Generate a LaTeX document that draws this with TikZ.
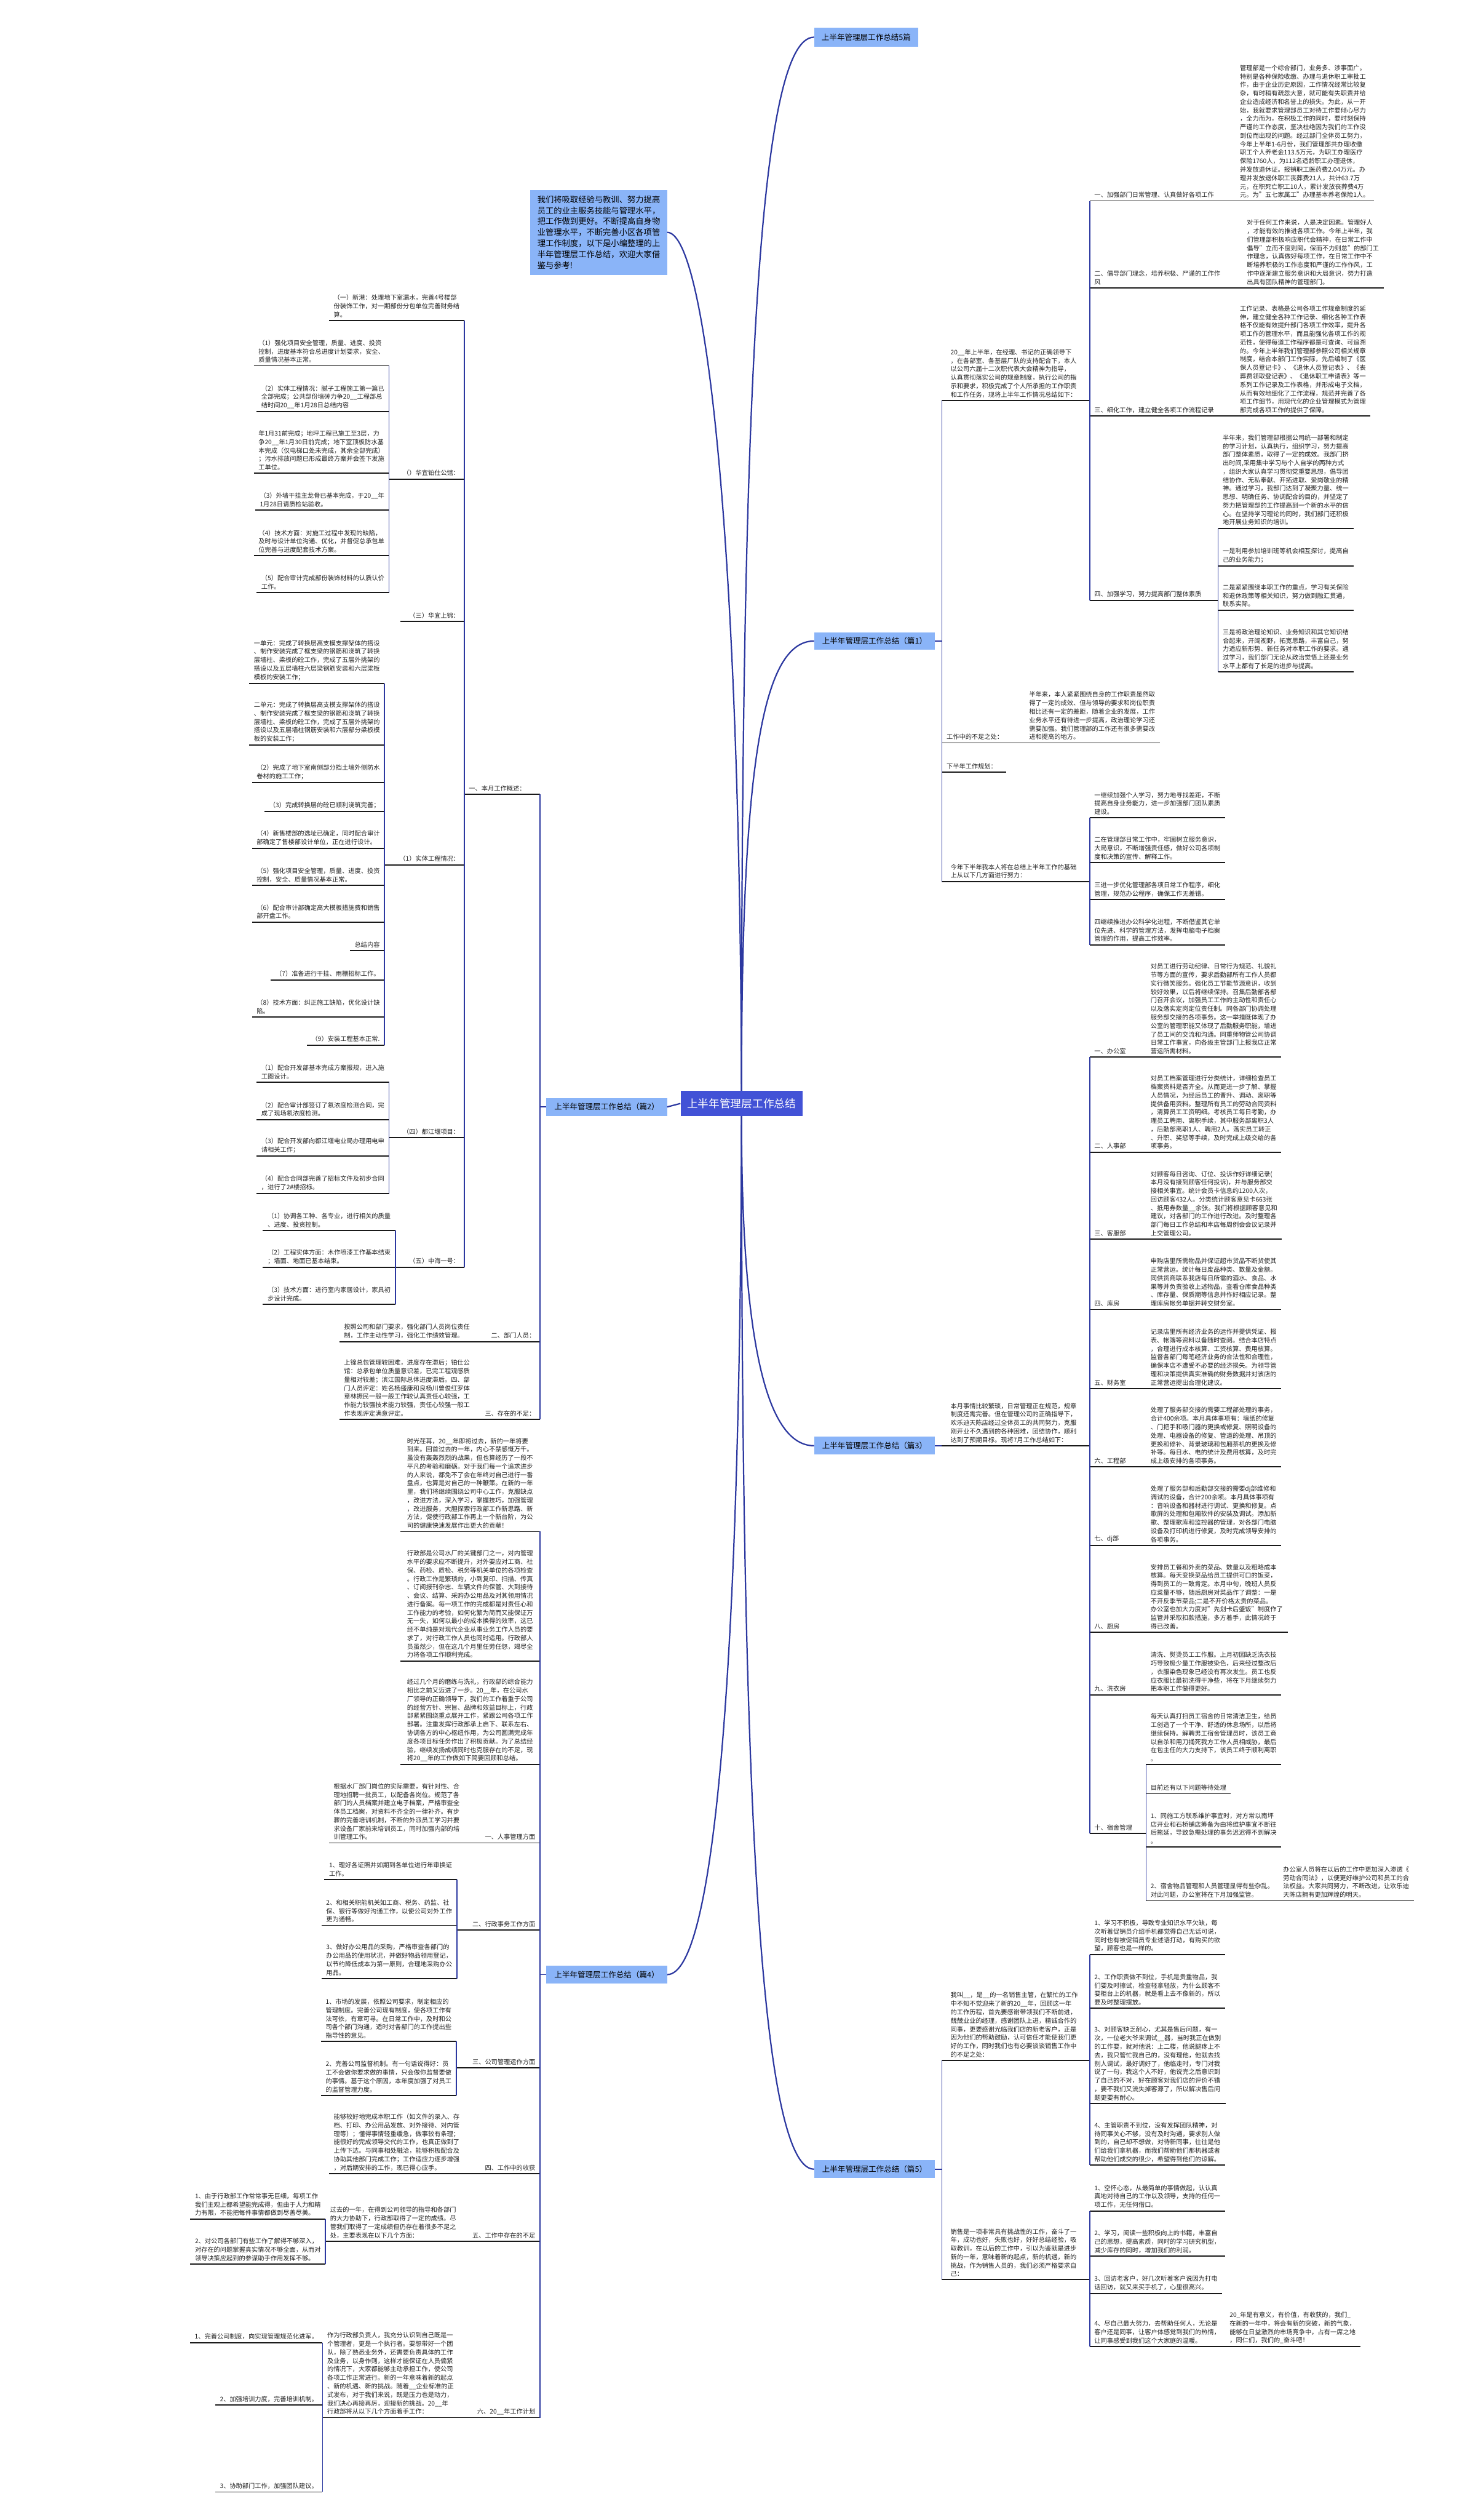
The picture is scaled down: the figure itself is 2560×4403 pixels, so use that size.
\documentclass[tikz,border=0pt]{standalone}
\usepackage{fontspec}
\setmainfont{Noto Sans CJK SC}
\usepackage{tikz}
\definecolor{lineblue}{RGB}{44,56,160}
\definecolor{branchblue}{RGB}{138,180,248}
\definecolor{rootblue}{RGB}{66,82,214}

\begin{document}
\begin{tikzpicture}[x=1pt,y=-1pt,
  bline/.style={draw=lineblue,line width=1.8pt},
  uline/.style={draw=black!90,line width=2pt},
  branchline/.style={draw=lineblue,line width=2.4pt},
  txt/.style={font=\fontsize{11}{14.8}\selectfont,text=black!88,align=left,inner xsep=8pt,inner ysep=5pt,
    append after command={(\tikzlastnode.south west) edge[uline] (\tikzlastnode.south east)}},
  lft/.style={txt,anchor=south east},
  rgt/.style={txt,anchor=south west},
  branch/.style={fill=branchblue,font=\fontsize{13.5}{16}\selectfont,minimum width=211pt,minimum height=31pt,inner sep=0pt},
  rootbox/.style={fill=rootblue,text=white,font=\fontsize{19}{22}\selectfont,minimum width=213pt,minimum height=44pt,inner sep=0pt}]
\useasboundingbox (0,0) rectangle (2560,4403);

% centre and the six branches
\node[rootbox] (root) at (1296,1928) {上半年管理层工作总结};
\node[branch,minimum width=182pt,minimum height=33pt] (p0) at (1514,65) {上半年管理层工作总结5篇};
\node[branch] (p1) at (1528.5,1120) {上半年管理层工作总结（篇1）};
\node[branch] (p2) at (1060.5,1934) {上半年管理层工作总结（篇2）};
\node[branch] (p3) at (1528.5,2526) {上半年管理层工作总结（篇3）};
\node[branch] (p4) at (1060.5,3450) {上半年管理层工作总结（篇4）};
\node[branch] (p5) at (1528.5,3790) {上半年管理层工作总结（篇5）};
\node[fill=branchblue,font=\fontsize{14.3}{19.2}\selectfont,align=left,minimum width=239pt,minimum height=148pt,inner xsep=10pt] (intro) at (1046.5,406)
  {我们将吸取经验与教训、努力提高\\员工的业主服务技能与管理水平，\\把工作做到更好。不断提高自身物\\业管理水平，不断完善小区各项管\\理工作制度，以下是小编整理的上\\半年管理层工作总结，欢迎大家借\\鉴与参考!};

\draw[branchline] (root.north) .. controls (1296,700) and (1325,65) .. (p0.west);
\draw[branchline] (root.north) .. controls (1293,900) and (1230,406) .. (intro.east);
\draw[branchline] (root.north) .. controls (1296,1350) and (1330,1120) .. (p1.west);
\draw[branchline] (root.west) -- (p2.east);
\draw[branchline] (root.south) .. controls (1296,2300) and (1330,2526) .. (p3.west);
\draw[branchline] (root.south) .. controls (1294,2900) and (1250,3450) .. (p4.east);
\draw[branchline] (root.south) .. controls (1296,3000) and (1320,3790) .. (p5.west);

\coordinate (k1) at ([xshift=12pt]p1.east);
\coordinate (k2) at ([xshift=-11pt]p2.west);
\coordinate (k3) at ([xshift=12pt]p3.east);
\coordinate (k4) at ([xshift=-11pt]p4.west);
\coordinate (k5) at ([xshift=12pt]p5.east);

% ---------------- 篇1
\node[rgt,inner xsep=15pt,text width=228pt] (p1a) at (k1 |- 0,700) {20\_\_年上半年，在经理、书记的正确领导下\\，在各部室、各基层厂队的支持配合下，本人\\以公司六届十二次职代表大会精神为指导，\\认真贯彻落实公司的规章制度，执行公司的指\\示和要求，积极完成了个人所承担的工作职责\\和工作任务，现将上半年工作情况总结如下：};
\node[rgt,text width=238pt] (p1a1) at (p1a.south east |- 0,351) {一、加强部门日常管理、认真做好各项工作};
\node[rgt] (p1a1x) at (p1a1.south east) {管理部是一个综合部门，业务多、涉事面广。\\特别是各种保险收缴、办理与退休职工审批工\\作，由于企业历史原因，工作情况经常比较复\\杂，有时稍有疏忽大意，就可能有失职责并给\\企业造成经济和名誉上的损失。为此，从一开\\始，我就要求管理部员工对待工作要倾心尽力\\，全力而为，在积极工作的同时，要时刻保持\\严谨的工作态度，坚决杜绝因为我们的工作没\\到位而出现的问题。经过部门全体员工努力，\\今年上半年1-6月份，我们管理部共办理收缴\\职工个人养老金113.5万元，为职工办理医疗\\保险1760人，为112名适龄职工办理退休，\\并发放退休证。报销职工医药费2.04万元。办\\理并发放退休职工丧葬费21人，共计63.7万\\元，在职死亡职工10人，累计发放丧葬费4万\\元。为"五七家属工"办理基本养老保险1人。};
\node[rgt,text width=250pt] (p1a2) at (p1a.south east |- 0,503) {二、倡导部门理念，培养积极、严谨的工作作\\风};
\node[rgt] (p1a2x) at (p1a2.south east) {对于任何工作来说，人是决定因素。管理好人\\，才能有效的推进各项工作。今年上半年，我\\们管理部积极响应职代会精神，在日常工作中\\倡导"立而不度则罔，保而不力则怠"的部门工\\作理念，认真做好每项工作，在日常工作中不\\断培养积极的工作态度和严谨的工作作风，工\\作中逐渐建立服务意识和大局意识，努力打造\\出具有团队精神的管理部门。};
\node[rgt,text width=238pt] (p1a3) at (p1a.south east |- 0,727) {三、细化工作，建立健全各项工作流程记录};
\node[rgt] (p1a3x) at (p1a3.south east) {工作记录、表格是公司各项工作规章制度的延\\伸，建立健全各种工作记录、细化各种工作表\\格不仅能有效提升部门各项工作效率，提升各\\项工作的管理水平，而且能强化各项工作的规\\范性，使得每道工作程序都是可查询、可追溯\\的。今年上半年我们管理部参照公司相关规章\\制度，结合本部门工作实际，先后编制了《医\\保人员登记卡》、《退休人员登记表》、《丧\\葬费领取登记表》、《退休职工申请表》等一\\系列工作记录及工作表格，并形成电子文档，\\从而有效地细化了工作流程，规范并完善了各\\项工作细节，用现代化的企业管理模式为管理\\部完成各项工作的提供了保障。};
\node[rgt,text width=208pt] (p1a4) at (p1a.south east |- 0,1049) {四、加强学习，努力提高部门整体素质};
\node[rgt] (p1a4a) at (p1a4.south east |- 0,923) {半年来，我们管理部根据公司统一部署和制定\\的学习计划，认真执行，组织学习，努力提高\\部门整体素质，取得了一定的成效。我部门挤\\出时间,采用集中学习与个人自学的两种方式\\，组织大家认真学习贯彻党重要思想，倡导团\\结协作、无私奉献、开拓进取、爱岗敬业的精\\神。通过学习，我部门达到了凝聚力量、统一\\思想、明确任务、协调配合的目的，并坚定了\\努力把管理部的工作提高到一个新的水平的信\\心。在坚持学习理论的同时，我们部门还积极\\地开展业务知识的培训。};
\node[rgt] (p1a4b) at (p1a4.south east |- 0,989) {一是利用参加培训班等机会相互探讨，提高自\\己的业务能力；};
\node[rgt] (p1a4c) at (p1a4.south east |- 0,1066) {二是紧紧围绕本职工作的重点，学习有关保险\\和退休政策等相关知识，努力做到融汇贯通，\\联系实际。};
\node[rgt] (p1a4d) at (p1a4.south east |- 0,1174) {三是将政治理论知识、业务知识和其它知识结\\合起来，开阔视野，拓宽思路，丰富自己，努\\力适应新形势、新任务对本职工作的要求。通\\过学习，我们部门无论从政治觉悟上还是业务\\水平上都有了长足的进步与提高。};
\node[rgt,text width=128pt] (p1b) at (k1 |- 0,1298) {工作中的不足之处：};
\node[rgt] (p1bx) at (p1b.south east) {半年来，本人紧紧围绕自身的工作职责虽然取\\得了一定的成效、但与领导的要求和岗位职责\\相比还有一定的差距，随着企业的发展，工作\\业务水平还有待进一步提高，政治理论学习还\\需要加强。我们管理部的工作还有很多需要改\\进和提高的地方。};
\node[rgt,text width=96pt] (p1c) at (k1 |- 0,1349) {下半年工作规划：};
\node[rgt,inner xsep=15pt,text width=228pt] (p1d) at (k1 |- 0,1540) {今年下半年我本人将在总结上半年工作的基础\\上从以下几方面进行努力：};
\node[rgt] (p1d1) at (p1d.south east |- 0,1429) {一继续加强个人学习，努力地寻找差距，不断\\提高自身业务能力，进一步加强部门团队素质\\建设。};
\node[rgt] (p1d2) at (p1d.south east |- 0,1507) {二在管理部日常工作中，牢固树立服务意识，\\大局意识，不断增强责任感，做好公司各项制\\度和决策的宣传、解释工作。};
\node[rgt] (p1d3) at (p1d.south east |- 0,1572) {三进一步优化管理部各项日常工作程序，细化\\管理，规范办公程序，确保工作无差错。};
\node[rgt] (p1d4) at (p1d.south east |- 0,1651) {四继续推进办公科学化进程，不断借鉴其它单\\位先进、科学的管理方法，发挥电脑电子档案\\管理的作用，提高工作效率。};

\draw[bline] (p1.east) -- (k1);
\draw[bline] (p1a.south west) -- (p1d.south west);
\draw[bline] (p1a1.south west) -- (p1a4.south west);
\draw[bline] (p1a4a.south west) -- (p1a4d.south west);
\draw[bline] (p1d1.south west) -- (p1d4.south west);

% ---------------- 篇2
\node[lft,text width=116pt] (p2a) at (k2 |- 0,1388) {一、本月工作概述：};
\node[lft] (p2a1) at (p2a.south west |- 0,560) {（一）新港：处理地下室漏水，完善4号楼部\\份装饰工作，对一期部份分包单位完善财务结\\算。};
\node[lft,text width=115pt,align=right] (p2a2) at (p2a.south west |- 0,837) {（）华宜铂仕公馆：};
\node[lft] (p2a2a) at (p2a2.south west |- 0,639) {（1）强化项目安全管理，质量、进度、投资\\控制，进度基本符合总进度计划要求，安全、\\质量情况基本正常。};
\node[lft] (p2a2b) at (p2a2.south west |- 0,719) {（2）实体工程情况：腻子工程施工第一篇已\\全部完成；公共部份墙砖力争20\_\_工程部总\\结时间20\_\_年1月28日总结内容};
\node[lft] (p2a2c) at (p2a2.south west |- 0,827) {年1月31前完成；地坪工程已施工至3层，力\\争20\_\_年1月30日前完成；地下室顶板防水基\\本完成（仅电梯口处未完成，其余全部完成）\\；污水排放问题已形成最终方案并会签下发施\\工单位。};
\node[lft] (p2a2d) at (p2a2.south west |- 0,891) {（3）外墙干挂主龙骨已基本完成，于20\_\_年\\1月28日请质检站验收。};
\node[lft] (p2a2e) at (p2a2.south west |- 0,971) {（4）技术方面：对施工过程中发现的缺陷，\\及时与设计单位沟通、优化，并督促总承包单\\位完善与进度配套技术方案。};
\node[lft] (p2a2f) at (p2a2.south west |- 0,1035) {（5）配合审计完成部份装饰材料的认质认价\\工作。};
\node[lft,text width=95pt,align=right] (p2a3) at (p2a.south west |- 0,1086) {（三）华宜上锦：};
\node[lft,text width=123pt,align=right] (p2a4) at (p2a.south west |- 0,1511) {（1）实体工程情况：};
\node[lft] (p2a4a) at (p2a4.south west |- 0,1194) {一单元：完成了转换层高支模支撑架体的搭设\\、制作安装完成了框支梁的钢筋和浇筑了转换\\层墙柱、梁板的砼工作，完成了五层外挑架的\\搭设以及五层墙柱六层梁钢筋安装和六层梁板\\模板的安装工作；};
\node[lft] (p2a4b) at (p2a4.south west |- 0,1302) {二单元：完成了转换层高支模支撑架体的搭设\\、制作安装完成了框支梁的钢筋和浇筑了转换\\层墙柱、梁板的砼工作，完成了五层外挑架的\\搭设以及五层墙柱钢筋安装和六层部分梁板模\\板的安装工作；};
\node[lft] (p2a4c) at (p2a4.south west |- 0,1367) {（2）完成了地下室南侧部分挡土墙外侧防水\\卷材的施工工作；};
\node[lft] (p2a4d) at (p2a4.south west |- 0,1418) {（3）完成转换层的砼已顺利浇筑完善；};
\node[lft] (p2a4e) at (p2a4.south west |- 0,1482) {（4）新售楼部的选址已确定，同时配合审计\\部确定了售楼部设计单位，正在进行设计。};
\node[lft] (p2a4f) at (p2a4.south west |- 0,1547) {（5）强化项目安全管理，质量、进度、投资\\控制，安全、质量情况基本正常。};
\node[lft] (p2a4g) at (p2a4.south west |- 0,1611) {（6）配合审计部确定高大模板措施费和销售\\部开盘工作。};
\node[lft] (p2a4h) at (p2a4.south west |- 0,1661) {总结内容};
\node[lft] (p2a4i) at (p2a4.south west |- 0,1712) {（7）准备进行干挂、雨棚招标工作。};
\node[lft] (p2a4j) at (p2a4.south west |- 0,1777) {（8）技术方面：纠正施工缺陷，优化设计缺\\陷。};
\node[lft] (p2a4k) at (p2a4.south west |- 0,1826) {（9）安装工程基本正常.};
\node[lft,text width=115pt,align=right] (p2a5) at (p2a.south west |- 0,1988) {（四）都江堰项目：};
\node[lft] (p2a5a) at (p2a5.south west |- 0,1891) {（1）配合开发部基本完成方案报规，进入施\\工图设计。};
\node[lft] (p2a5b) at (p2a5.south west |- 0,1956) {（2）配合审计部签订了氡浓度检测合同，完\\成了现场氡浓度检测。};
\node[lft] (p2a5c) at (p2a5.south west |- 0,2020) {（3）配合开发部向都江堰电业局办理用电申\\请相关工作；};
\node[lft] (p2a5d) at (p2a5.south west |- 0,2085) {（4）配合合同部完善了招标文件及初步合同\\，进行了2\#楼招标。};
\node[lft,text width=104pt,align=right] (p2a6) at (p2a.south west |- 0,2214) {（五）中海一号：};
\node[lft] (p2a6a) at (p2a6.south west |- 0,2150) {（1）协调各工种、各专业，进行相关的质量\\、进度、投资控制。};
\node[lft] (p2a6b) at (p2a6.south west |- 0,2214) {（2）工程实体方面：木作喷漆工作基本结束\\；墙面、地面已基本结束。};
\node[lft] (p2a6c) at (p2a6.south west |- 0,2279) {（3）技术方面：进行室内家居设计，家具初\\步设计完成。};
\node[lft,text width=98pt,align=right] (p2b) at (k2 |- 0,2344) {二、部门人员：};
\node[lft] (p2bx) at (p2b.south west) {按照公司和部门要求，强化部门人员岗位责任\\制，工作主动性学习，强化工作绩效管理。};
\node[lft,text width=98pt,align=right] (p2c) at (k2 |- 0,2480) {三、存在的不足：};
\node[lft] (p2cx) at (p2c.south west) {上锦总包管理较困难，进度存在滞后；铂仕公\\馆：总承包单位质量意识差，已完工程观感质\\量相对较差；滨江国际总体进度滞后。四、部\\门人员评定：姓名杨盛康和良杨川曾俊红罗体\\章林振民一般一般工作较认真责任心较强，工\\作能力较强技术能力较强，责任心较强一般工\\作表现评定满意评定。};

\draw[bline] (p2.west) -- (k2);
\draw[bline] (p2a.south east) -- (p2c.south east);
\draw[bline] (p2a1.south east) -- (p2a6.south east);
\draw[bline] (p2a2a.south east) -- (p2a2f.south east);
\draw[bline] (p2a4a.south east) -- (p2a4k.south east);
\draw[bline] (p2a5a.south east) -- (p2a5d.south east);
\draw[bline] (p2a6a.south east) -- (p2a6c.south east);

% ---------------- 篇3
\node[rgt,inner xsep=15pt,text width=228pt] (p3a) at (k3) {本月事情比较繁琐，日常管理正在规范，规章\\制度还需完善。但在管理公司的正确指导下，\\欢乐迪天陈店经过全体员工的共同努力，克服\\刚开业不久遇到的各种困难，团结协作，顺利\\达到了预期目标。现将7月工作总结如下：};
\node[rgt,text width=82pt] (p3a1) at (p3a.south east |- 0,1847) {一、办公室};
\node[rgt] (p3a1x) at (p3a1.south east) {对员工进行劳动纪律、日常行为规范、礼貌礼\\节等方面的宣传，要求后勤部所有工作人员都\\实行微笑服务。强化员工节能节源意识，收到\\较好效果，以后将继续保持。召集后勤部各部\\门召开会议，加强员工工作的主动性和责任心\\以及落实定岗定位责任制。同各部门协调处理\\服务部交接的各项事务。这一举措既体现了办\\公室的管理职能又体现了后勤服务职能，增进\\了员工间的交流和沟通。同重师物管公司协调\\日常工作事宜，向各级主管部门上报我店正常\\营运所需材料。};
\node[rgt,text width=82pt] (p3a2) at (p3a.south east |- 0,2013) {二、人事部};
\node[rgt] (p3a2x) at (p3a2.south east) {对员工档案管理进行分类统计，详细检查员工\\档案资料是否齐全。从而更进一步了解、掌握\\人员情况，为经后员工的晋升、调动、离职等\\提供备用资料。整理所有员工的劳动合同资料\\，清算员工工资明细。考核员工每日考勤，办\\理员工聘用、离职手续，其中服务部离职3人\\，后勤部离职1人、聘用2人。落实员工转正\\、升职、奖惩等手续，及时完成上级交给的各\\项事务。};
\node[rgt,text width=82pt] (p3a3) at (p3a.south east |- 0,2165) {三、客服部};
\node[rgt] (p3a3x) at (p3a3.south east) {对顾客每日咨询、订位、投诉作好详细记录(\\本月没有接到顾客任何投诉)，并与服务部交\\接相关事宜。统计会员卡信息约1200人次，\\回访顾客432人。分类统计顾客意见卡663张\\、抵用券数量\_\_余张。我们将根据顾客意见和\\建议，对各部门的工作进行改进。及时整理各\\部门每日工作总结和本店每周例会会议记录并\\上交管理公司。};
\node[rgt,text width=82pt] (p3a4) at (p3a.south east |- 0,2288) {四、库房};
\node[rgt] (p3a4x) at (p3a4.south east) {申购店里所需物品并保证超市货品不断货使其\\正常营运。统计每日废品种类、数量及金额。\\同供货商联系我店每日所需的酒水、食品、水\\果等并负责验收上述物品，查看仓库食品种类\\、库存量、保质期等信息并作好相应记录。整\\理库房帐务单据并转交财务室。};
\node[rgt,text width=82pt] (p3a5) at (p3a.south east |- 0,2426) {五、财务室};
\node[rgt] (p3a5x) at (p3a5.south east) {记录店里所有经济业务的运作并提供凭证、报\\表、帐簿等资料以备随时查阅。结合本店特点\\，合理进行成本核算、工资核算、费用核算。\\监督各部门每笔经济业务的合法性和合理性，\\确保本店不遭受不必要的经济损失。为领导管\\理和决策提供真实准确的财务数据并对该店的\\正常营运提出合理化建议。};
\node[rgt,text width=82pt] (p3a6) at (p3a.south east |- 0,2563) {六、工程部};
\node[rgt] (p3a6x) at (p3a6.south east) {处理了服务部交接的需要工程部处理的事务，\\合计400余项。本月具体事项有：墙纸的修复\\、门把手和吸门器的更换或修复、照明设备的\\处理、电器设备的修复、管道的处理、吊顶的\\更换和修补、背景玻璃和包厢茶机的更换及修\\补等。每日水、电的统计及费用核算，及时完\\成上级安排的各项事务。};
\node[rgt,text width=82pt] (p3a7) at (p3a.south east |- 0,2700) {七、dj部};
\node[rgt] (p3a7x) at (p3a7.south east) {处理了服务部和后勤部交接的需要dj部维修和\\调试的设备，合计200余项。本月具体事项有\\：音响设备和器材进行调试、更换和修复。点\\歌屏的处理和包厢软件的安装及调试。添加新\\歌、整理歌库和监控器的管理，对各部门电脑\\设备及打印机进行修复，及时完成领导安排的\\各项事务。};
\node[rgt,text width=82pt] (p3a8) at (p3a.south east |- 0,2852) {八、厨房};
\node[rgt] (p3a8x) at (p3a8.south east) {安排员工餐和外卖的菜品、数量以及粗略成本\\核算。每天变换菜品给员工提供可口的饭菜，\\得到员工的一致肯定。本月中旬，晚班人员反\\应菜量不够，随后厨房对菜品作了调整：一是\\不开反季节菜品;二是不开价格太贵的菜品。\\办公室也加大力度对"先划卡后盛饭"制度作了\\监管并采取扣款措施，多方着手，此情况终于\\得已改善。};
\node[rgt,text width=82pt] (p3a9) at (p3a.south east |- 0,2961) {九、洗衣房};
\node[rgt] (p3a9x) at (p3a9.south east) {清洗、熨烫员工工作服。上月初因缺乏洗衣技\\巧导致极少量工作服被染色，后来经过整改后\\，衣服染色现象已经没有再次发生。员工也反\\应衣服比最初洗得干净些，将在下月继续努力\\把本职工作做得更好。};
\node[rgt,text width=82pt] (p3a10) at (p3a.south east |- 0,3203) {十、宿舍管理};
\node[rgt] (p3j1) at (p3a10.south east |- 0,3083) {每天认真打扫员工宿舍的日常清洁卫生，给员\\工创造了一个干净、舒适的休息场所，以后将\\继续保持。解聘男工宿舍管理员时，该员工竟\\以自杀和用刀捅死我方工作人员相威胁，最后\\在包主任的大力支持下，该员工终于顺利离职\\。};
\node[rgt] (p3j2) at (p3a10.south east |- 0,3134) {目前还有以下问题等待处理};
\node[rgt] (p3j3) at (p3a10.south east |- 0,3227) {1、同施工方联系维护事宜时，对方常以南坪\\店开业和石桥铺店筹备为由将维护事宜不断往\\后拖延，导致急需处理的事务迟迟得不到解决\\。};
\node[rgt] (p3j4) at (p3a10.south east |- 0,3321) {2、宿舍物品管理和人员管理显得有些杂乱。\\对此问题，办公室将在下月加强监管。};
\node[rgt] (p3j4x) at (p3j4.south east) {办公室人员将在以后的工作中更加深入渗透《\\劳动合同法》，以便更好维护公司和员工的合\\法权益。大家共同努力，不断改进，让欢乐迪\\天陈店拥有更加辉煌的明天。};

\draw[bline] (p3.east) -- (k3);
\draw[bline] (p3a1.south west) -- (p3a10.south west);
\draw[bline] (p3j1.south west) -- (p3j4.south west);

% ---------------- 篇4
\node[lft,inner xsep=12pt] (p4a) at (k4 |- 0,2676) {时光荏苒，20\_\_年即将过去，新的一年将要\\到来。回首过去的一年，内心不禁感慨万千。\\虽没有轰轰烈烈的战果，但也算经历了一段不\\平凡的考验和磨砺。对于我们每一个追求进步\\的人来说，都免不了会在年终对自己进行一番\\盘点，也算是对自己的一种鞭策。在新的一年\\里，我们将继续围绕公司中心工作，克服缺点\\，改进方法，深入学习，掌握技巧，加强管理\\，改进服务，大胆探索行政部工作新思路、新\\方法，促使行政部工作再上一个新台阶，为公\\司的健康快速发展作出更大的贡献！};
\node[lft,inner xsep=12pt] (p4b) at (k4 |- 0,2902) {行政部是公司水厂的关键部门之一，对内管理\\水平的要求应不断提升，对外要应对工商、社\\保、药检、质检、税务等机关单位的各项检查\\。行政工作是繁琐的，小到复印、扫描、传真\\、订阅报刊杂志、车辆文件的保管、大到接待\\、会议、结算、采购办公用品及对其领用情况\\进行备案。每一项工作的完成都是对责任心和\\工作能力的考验，如何化繁为简而又能保证万\\无一失，如何以最小的成本换得的效率，这已\\经不单纯是对现代企业从事业务工作人员的要\\求了，对行政工作人员也同时适用。行政部人\\员虽然少，但在这几个月里任劳任怨，竭尽全\\力将各项工作顺利完成。};
\node[lft,inner xsep=12pt] (p4c) at (k4 |- 0,3083) {经过几个月的磨练与洗礼，行政部的综合能力\\相比之前又迈进了一步。20\_\_年，在公司水\\厂领导的正确领导下，我们的工作着重于公司\\的经营方针、宗旨、品牌和效益目标上，行政\\部紧紧围绕重点展开工作，紧跟公司各项工作\\部署。注重发挥行政部承上启下、联系左右、\\协调各方的中心枢纽作用，为公司圆满完成年\\度各项目标任务作出了积极贡献。为了总结经\\验，继续发扬成绩同时也克服存在的不足，现\\将20\_\_年的工作做如下简要回顾和总结。};
\node[lft,text width=116pt,align=right] (p4d) at (k4 |- 0,3220) {一、人事管理方面};
\node[lft] (p4dx) at (p4d.south west) {根据水厂部门岗位的实际需要，有针对性、合\\理地招聘一批员工，以配备各岗位。规范了各\\部门的人员档案并建立电子档案，严格审查全\\体员工档案，对资料不齐全的一律补齐。有步\\骤的完善培训机制，不断的外派员工学习并要\\求设备厂家前来培训员工，同时加强内部的培\\训管理工作。};
\node[lft,text width=129pt,align=right] (p4e) at (k4 |- 0,3372) {二、行政事务工作方面};
\node[lft] (p4e1) at (p4e.south west |- 0,3284) {1、理好各证照并如期到各单位进行年审换证\\工作。};
\node[lft] (p4e2) at (p4e.south west |- 0,3364) {2、和相关职能机关如工商、税务、药监、社\\保、银行等做好沟通工作，以使公司对外工作\\更为通畅。};
\node[lft] (p4e3) at (p4e.south west |- 0,3457) {3、做好办公用品的采购，严格审查各部门的\\办公用品的使用状况，并做好物品领用登记，\\以节约降低成本为第一原则，合理地采购办公\\用品。};
\node[lft,text width=130pt,align=right] (p4f) at (k4 |- 0,3613) {三、公司管理运作方面};
\node[lft] (p4f1) at (p4f.south west |- 0,3567) {1、市场的发展，依照公司要求，制定相应的\\管理制度。完善公司现有制度，使各项工作有\\法可依，有章可寻。在日常工作中，及时和公\\司各个部门沟通，适时对各部门的工作提出些\\指导性的意见。};
\node[lft] (p4f2) at (p4f.south west |- 0,3661) {2、完善公司监督机制。有一句话说得好：员\\工不会做你要求做的事情，只会做你监督要做\\的事情。基于这个原因，本年度加强了对员工\\的监督管理力度。};
\node[lft,text width=116pt,align=right] (p4g) at (k4 |- 0,3798) {四、工作中的收获};
\node[lft] (p4gx) at (p4g.south west) {能够较好地完成本职工作（如文件的录入、存\\档、打印、办公用品发放、对外接待、对内管\\理等）；懂得事情轻重缓急，做事较有条理；\\能很好的完成领导交代的工作，也真正做到了\\上传下达。与同事相处融洽，能够积极配合及\\协助其他部门完成工作；工作适应力逐步增强\\，对后期安排的工作，现已得心应手。};
\node[lft,text width=122pt,align=right] (p4h) at (k4 |- 0,3916) {五、工作中存在的不足};
\node[lft] (p4h1) at (p4h.south west) {过去的一年，在得到公司领导的指导和各部门\\的大力协助下，行政部取得了一定的成绩。尽\\管我们取得了一定成绩但仍存在着很多不足之\\处，主要表现在以下几个方面：};
\node[lft] (p4h1a) at (p4h1.south west |- 0,3877) {1、由于行政部工作常常事无巨细，每项工作\\我们主观上都希望能完成得，但由于人力和精\\力有限，不能把每件事情都做到尽善尽美。};
\node[lft] (p4h1b) at (p4h1.south west |- 0,3956) {2、对公司各部门有些工作了解得不够深入，\\对存在的问题掌握真实情况不够全面，从而对\\领导决策应起到的参谋助手作用发挥不够。};
\node[lft,text width=126pt,align=right] (p4i) at (k4 |- 0,4224) {六、20\_\_年工作计划};
\node[lft] (p4i1) at (p4i.south west) {作为行政部负责人，我充分认识到自己既是一\\个管理者，更是一个执行者。要想带好一个团\\队，除了熟悉业务外，还需要负责具体的工作\\及业务，以身作则，这样才能保证在人员偏紧\\的情况下，大家都能够主动承担工作，使公司\\各项工作正常进行。新的一年意味着新的起点\\、新的机遇、新的挑战。随着\_\_企业标准的正\\式发布，对于我们来说，既是压力也是动力，\\我们决心再接再厉，迎接新的挑战。20\_\_年\\行政部将从以下几个方面着手工作：};
\node[lft] (p4i1a) at (p4i1.south west |- 0,4093) {1、完善公司制度，向实现管理规范化进军。};
\node[lft] (p4i1b) at (p4i1.south west |- 0,4202) {2、加强培训力度，完善培训机制。};
\node[lft] (p4i1c) at (p4i1.south west |- 0,4354) {3、协助部门工作，加强团队建议。};

\draw[bline] (p4.west) -- (k4);
\draw[bline] (p4a.south east) -- (p4i.south east);
\draw[bline] (p4e1.south east) -- (p4e3.south east);
\draw[bline] (p4f1.south east) -- (p4f2.south east);
\draw[bline] (p4h1a.south east) -- (p4h1b.south east);
\draw[bline] (p4i1a.south east) -- (p4i1c.south east);

% ---------------- 篇5
\node[rgt,inner xsep=15pt,text width=228pt] (p5a) at (k5 |- 0,3600) {我叫\_\_，是\_\_的一名销售主管，在繁忙的工作\\中不知不觉迎来了新的20\_\_年，回顾这一年\\的工作历程，首先要感谢带领我们不断前进，\\兢兢业业的经理，感谢团队上进，精诚合作的\\同事，更要感谢光临我们店的新老客户，正是\\因为他们的帮助鼓励，认可信任才能使我们更\\好的工作，同时我们也有必要谈谈销售工作中\\的不足之处：};
\node[rgt] (p5a1) at (p5a.south east |- 0,3415) {1、学习不积极，导致专业知识水平欠缺，每\\次听着促销员介绍手机都觉得自己无话可说，\\同时也有被促销员专业述语打动，有购买的欲\\望，顾客也是一样的。};
\node[rgt] (p5a2) at (p5a.south east |- 0,3509) {2、工作职责做不到位，手机是贵重物品，我\\们要及时擦试，检查轻拿轻放，为什么顾客不\\要柜台上的机器，就是看上去不像新的，所以\\要及时整理摆放。};
\node[rgt] (p5a3) at (p5a.south east |- 0,3675) {3、对顾客缺乏耐心，尤其是售后问题，有一\\次，一位老大爷来调试\_\_器，当时我正在做别\\的工作要，就对他说：上二楼，他说腿疼上不\\去，我只管忙我自己的，没有理他，他就去找\\别人调试，最好调好了，他临走时，专门对我\\说了一句，我这个人不好，他说完之后意识到\\了自己的不对，好在顾客对我们店的评价不错\\，要不我们又流失掉客源了，所以解决售后问\\题更要有耐心。};
\node[rgt] (p5a4) at (p5a.south east |- 0,3783) {4、主管职责不到位，没有发挥团队精神，对\\待同事关心不够，没有及时沟通，要求别人做\\到的，自己却不想做，对待新同事，往往是他\\们给我们拿机器，而我们帮助他们那机器或者\\帮助他们成交的很少，希望得到他们的谅解。};
\node[rgt,inner xsep=15pt,text width=228pt] (p5b) at (k5 |- 0,3983) {销售是一项非常具有挑战性的工作，奋斗了一\\年，成功也好，失败也好，好好总结经验，吸\\取教训，在以后的工作中，引以为鉴就是进步\\新的一年，意味着新的起点，新的机遇，新的\\挑战，作为销售人员的，我们必须严格要求自\\己：};
\node[rgt] (p5b1) at (p5b.south east |- 0,3863) {1、空怀心态，从最简单的事情做起，认认真\\真地对待自己的工作以及领导，支持的任何一\\项工作，无任何借口。};
\node[rgt] (p5b2) at (p5b.south east |- 0,3942) {2、学习，阅读一些积极向上的书籍，丰富自\\己的思想，提高素质，同时的学习研究机型，\\减少库存的同时，增加我们的利润。};
\node[rgt] (p5b3) at (p5b.south east |- 0,4007) {3、回访老客户，好几次听着客户说因为打电\\话回访，就又来买手机了，心里很高兴。};
\node[rgt] (p5b4) at (p5b.south east |- 0,4100) {4、尽自己最大努力，去帮助任何人，无论是\\客户还是同事，让客户体感觉到我们的热情，\\让同事感受到我们这个大家庭的温暖。};
\node[rgt] (p5b4x) at (p5b4.south east) {20\_年是有意义，有价值，有收获的，我们\_\\在新的一年中，将会有新的突破，新的气象，\\能够在日益激烈的市场竞争中，占有一席之地\\，同仁们，我们的\_奋斗吧！};

\draw[bline] (p5.east) -- (k5);
\draw[bline] (p5a.south west) -- (p5b.south west);
\draw[bline] (p5a1.south west) -- (p5a4.south west);
\draw[bline] (p5b1.south west) -- (p5b4.south west);
\end{tikzpicture}
\end{document}
